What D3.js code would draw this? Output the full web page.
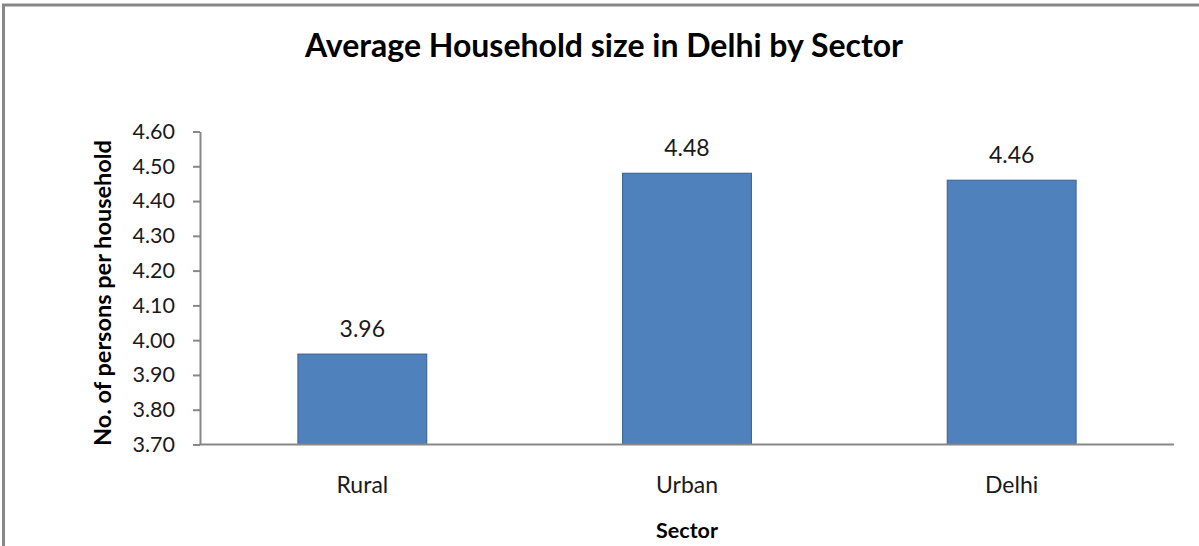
<!DOCTYPE html>
<html>
<head>
<meta charset="utf-8">
<script src="https://cdn.jsdelivr.net/npm/d3@7"></script>
<style>
  html, body { margin: 0; padding: 0; background: #fff; }
  svg { display: block; }
  text { font-family: Lato, "Liberation Sans", sans-serif; fill: #000; }
</style>
</head>
<body>
<svg id="chart" width="1199" height="546"></svg>
<script>
// Average household size by sector
const sectors = ["Rural", "Urban", "Delhi"];
const householdSize = [3.96, 4.48, 4.46];
const yTicks = [3.70, 3.80, 3.90, 4.00, 4.10, 4.20, 4.30, 4.40, 4.50, 4.60];

const chartTitle = "Average Household size in Delhi by Sector";
const yTitle = "No. of persons per household";
const xTitle = "Sector";

const svg = d3.select("#chart");
const W = 1199, H = 546;
const plot = { left: 200, right: 1174, top: 131.5, bottom: 444.5 };

// Chart frame (extends past the right and bottom edges)
svg.append("rect")
  .attr("x", 3.5).attr("y", 5)
  .attr("width", W + 10).attr("height", H + 10)
  .attr("fill", "#fff")
  .attr("stroke", "#878787").attr("stroke-width", 3);

const x = d3.scaleBand()
  .domain(sectors)
  .range([plot.left, plot.right])
  .paddingInner(0.6)
  .paddingOuter(0.3);

const y = d3.scaleLinear()
  .domain([3.70, 4.60])
  .range([plot.bottom, plot.top]);

// Bars
svg.append("g").selectAll("rect")
  .data(sectors)
  .join("rect")
  .attr("x", (d) => x(d) + 0.5)
  .attr("y", (d, i) => y(householdSize[i]))
  .attr("width", x.bandwidth() - 1)
  .attr("height", (d, i) => y(3.70) - y(householdSize[i]))
  .attr("fill", "#4F81BD")
  .attr("stroke", "#3A5F8C")
  .attr("stroke-width", 1);

// Value labels
svg.append("g").selectAll("text")
  .data(sectors)
  .join("text")
  .attr("x", (d) => x(d) + x.bandwidth() / 2)
  .attr("y", (d, i) => y(householdSize[i]) - 17)
  .attr("text-anchor", "middle")
  .style("font-size", "23px")
  .style("fill", "#1a1a1a")
  .text((d, i) => householdSize[i].toFixed(2));

// Y axis
const yAxis = svg.append("g")
  .attr("transform", `translate(${plot.left},0)`)
  .call(d3.axisLeft(y).tickValues(yTicks).tickFormat(d3.format(".2f")).tickSize(7).tickSizeOuter(0).tickPadding(18));
yAxis.select(".domain").attr("stroke", "#878787").attr("stroke-width", 2);
yAxis.selectAll(".tick line").attr("stroke", "#878787").attr("stroke-width", 2);
yAxis.selectAll(".tick text")
  .style("font-family", "Lato, 'Liberation Sans', sans-serif")
  .style("font-size", "21.5px")
  .style("fill", "#1a1a1a");

// X axis
const xAxis = svg.append("g")
  .attr("transform", `translate(0,${plot.bottom})`)
  .call(d3.axisBottom(x).tickSize(0).tickSizeOuter(0).tickPadding(32));
xAxis.select(".domain").attr("stroke", "#878787").attr("stroke-width", 2)
  .attr("d", `M${plot.left - 1},0H${plot.right}`);
xAxis.selectAll(".tick text")
  .style("font-family", "Lato, 'Liberation Sans', sans-serif")
  .style("font-size", "23px")
  .style("fill", "#1a1a1a");

// Titles
svg.append("text")
  .attr("x", 604).attr("y", 57)
  .attr("text-anchor", "middle")
  .style("font-size", "32px").style("font-weight", "bold")
  .text(chartTitle);

svg.append("text")
  .attr("transform", `translate(111,293) rotate(-90)`)
  .attr("text-anchor", "middle")
  .style("font-size", "23.5px").style("font-weight", "bold")
  .text(yTitle);

svg.append("text")
  .attr("x", 687).attr("y", 538)
  .attr("text-anchor", "middle")
  .style("font-size", "21.5px").style("font-weight", "bold")
  .text(xTitle);
</script>
</body>
</html>
